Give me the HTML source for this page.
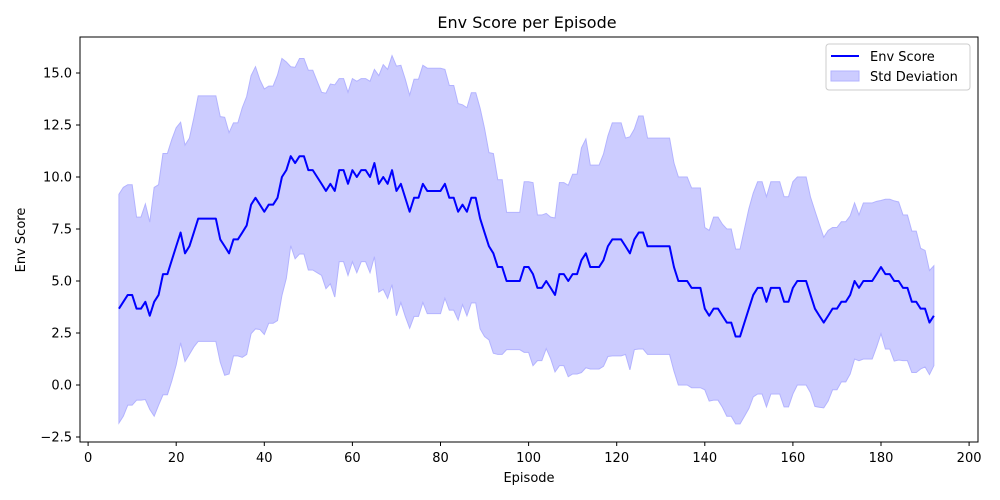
<!DOCTYPE html>
<html><head><meta charset="utf-8"><style>
body{margin:0;background:#fff;}
svg{display:block;font-family:"DejaVu Sans","Liberation Sans",sans-serif;}
</style></head><body>
<svg id="chart" width="1000" height="500">
<rect x="0" y="0" width="1000" height="500" fill="#fff"/>
<g id="plot"></g>
<rect x="80" y="37" width="898" height="405" fill="none" stroke="#000" stroke-width="1"/>
<g id="xticks"></g><g id="yticks"></g>
<text x="527" y="28" font-size="16" text-anchor="middle">Env Score per Episode</text>
<text x="529" y="482" font-size="13" text-anchor="middle">Episode</text>
<text x="25" y="240" font-size="13" text-anchor="middle" transform="rotate(-90 25 240)">Env Score</text>
<g>
<rect x="826" y="44" width="144" height="46" rx="3" fill="#fff" fill-opacity="0.8" stroke="#ccc"/>
<line x1="831" y1="56" x2="859" y2="56" stroke="#0000ff" stroke-width="2"/>
<text x="870" y="61" font-size="13">Env Score</text>
<rect x="831" y="71" width="28" height="10" fill="#ccccff" stroke="#b3b3ff"/>
<text x="870" y="81" font-size="13">Std Deviation</text>
</g>
</svg>
<script>
const startEpisode = 7;
const meanScores = [3.67,4,4.33,4.33,3.67,3.67,4,3.33,4,4.33,
5.33,5.33,6,6.67,7.33,6.33,6.67,7.33,8,8,
8,8,8,7,6.67,6.33,7,7,7.33,7.67,
8.67,9,8.67,8.33,8.67,8.67,9,10,10.33,11,
10.67,11,11,10.33,10.33,10,9.67,9.33,9.67,9.33,
10.33,10.33,9.67,10.33,10,10.33,10.33,10,10.67,9.67,
10,9.67,10.33,9.33,9.67,9,8.33,9,9,9.67,
9.33,9.33,9.33,9.33,9.67,9,9,8.33,8.67,8.33,
9,9,8,7.33,6.67,6.33,5.67,5.67,5,5,
5,5,5.67,5.67,5.33,4.67,4.67,5,4.67,4.33,
5.33,5.33,5,5.33,5.33,6,6.33,5.67,5.67,5.67,
6,6.67,7,7,7,6.67,6.33,7,7.33,7.33,
6.67,6.67,6.67,6.67,6.67,6.67,5.67,5,5,5,
4.67,4.67,4.67,3.67,3.33,3.67,3.67,3.33,3,3,
2.33,2.33,3,3.67,4.33,4.67,4.67,4,4.67,4.67,
4.67,4,4,4.67,5,5,5,4.33,3.67,3.33,
3,3.33,3.67,3.67,4,4,4.33,5,4.67,5,
5,5,5.33,5.67,5.33,5.33,5,5,4.67,4.67,
4,4,3.67,3.67,3,3.33];
const stdDevs = [5.5,5.5,5.3,5.3,4.4,4.4,4.7,4.5,5.5,5.3,
5.8,5.8,5.8,5.7,5.3,5.2,5.2,5.5,5.9,5.9,
5.9,5.9,5.9,5.9,6.2,5.8,5.6,5.6,6.0,6.2,
6.2,6.3,6.0,5.9,5.7,5.7,5.9,5.7,5.2,4.3,
4.6,4.7,4.7,4.8,4.8,4.6,4.4,4.7,4.8,5.1,
4.4,4.4,4.4,4.4,4.6,4.4,4.4,4.6,4.5,5.2,
5.4,5.5,5.5,6.0,5.7,5.7,5.6,5.7,5.7,5.7,
5.9,5.9,5.9,5.9,5.5,5.4,5.4,5.2,4.8,5.0,
5.05,5.05,5.3,5.0,4.5,4.8,4.2,4.2,3.3,3.3,
3.3,3.3,4.1,4.1,4.4,3.5,3.5,3.25,3.4,3.7,
4.4,4.4,4.6,4.8,4.8,5.4,5.5,4.9,4.9,4.9,
5.1,5.3,5.6,5.6,5.6,5.2,5.6,5.3,5.6,5.6,
5.2,5.2,5.2,5.2,5.2,5.2,5.0,5.0,5.0,5.0,
4.8,4.8,4.8,3.9,4.1,4.4,4.4,4.4,4.5,4.5,
4.2,4.2,4.5,4.8,4.9,5.1,5.1,5.05,5.1,5.1,
5.1,5.05,5.05,5.1,5.0,5.0,5.0,4.7,4.7,4.4,
4.1,4.1,3.9,3.9,3.85,3.85,3.8,3.75,3.5,3.75,
3.75,3.75,3.5,3.2,3.6,3.6,3.85,3.8,3.5,3.5,
3.4,3.4,2.9,2.8,2.5,2.4];
const xTickValues = [0,20,40,60,80,100,120,140,160,180,200];
const yTickValues = [-2.5,0,2.5,5,7.5,10,12.5,15];

const NS = "http://www.w3.org/2000/svg";
function xScale(v){ return 88.1 + v * 4.405; }
function yScale(v){ return 385 - v * 20.8; }
function mk(tag, attrs){ const e = document.createElementNS(NS, tag); for (const k in attrs) e.setAttribute(k, attrs[k]); return e; }

const plot = document.getElementById('plot');
let up = [], lo = [], ln = [];
meanScores.forEach((m, i) => {
  const x = xScale(startEpisode + i);
  up.push(x.toFixed(2) + ',' + yScale(m + stdDevs[i]).toFixed(2));
  lo.push(x.toFixed(2) + ',' + yScale(m - stdDevs[i]).toFixed(2));
  ln.push(x.toFixed(2) + ',' + yScale(m).toFixed(2));
});
const band = mk('polygon', {points: up.concat(lo.reverse()).join(' '), fill: '#ccccff', stroke: '#b3b3ff', 'stroke-width': 1});


plot.appendChild(band);
const line = mk('polyline', {points: ln.join(' '), fill: 'none', stroke: '#0000ff', 'stroke-width': 2, 'stroke-linejoin': 'round'});


plot.appendChild(line);

const xg = document.getElementById('xticks');
xTickValues.forEach(v => {
  const x = xScale(v);
  const t = mk('line', {x1: x, y1: 442, x2: x, y2: 446, stroke: '#000'});
  
  
  xg.appendChild(t);
  const l = mk('text', {x: x, y: 462, 'font-size': 13, 'text-anchor': 'middle'});
  l.textContent = v;
  
  
  xg.appendChild(l);
});
const yg = document.getElementById('yticks');
yTickValues.forEach(v => {
  const y = yScale(v);
  const t = mk('line', {x1: 76, y1: y, x2: 80, y2: y, stroke: '#000'});
  
  
  yg.appendChild(t);
  const l = mk('text', {x: 72, y: y + 4.5, 'font-size': 13, 'text-anchor': 'end'});
  l.textContent = v < 0 ? '\u22122.5' : v.toFixed(1);
  
  
  yg.appendChild(l);
});
</script>
</body></html>
